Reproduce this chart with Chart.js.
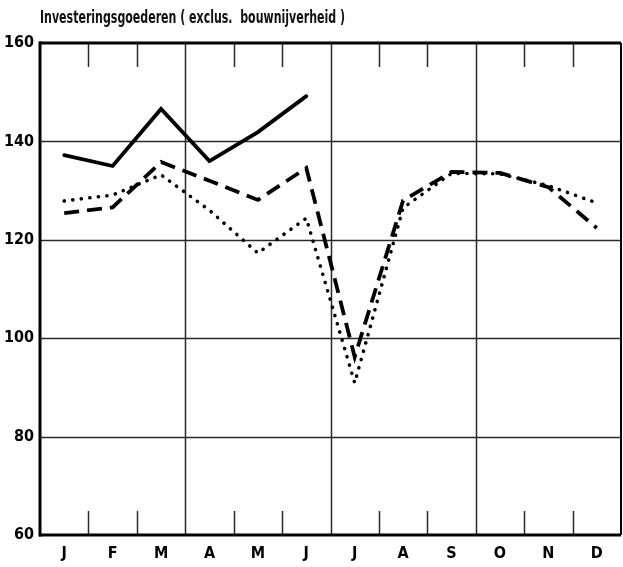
<!DOCTYPE html>
<html><head><meta charset="utf-8">
<script src="https://cdn.jsdelivr.net/npm/chart.js@4"></script>
<style>
body{margin:0;background:#fff}
#wrap{position:relative;width:623px;height:567px}
#title{position:absolute;left:40px;top:7px;font:bold 17px "Liberation Sans Narrow","DejaVu Sans Condensed",sans-serif;color:#111;white-space:pre;transform-origin:0 0}
canvas{position:absolute;left:0;top:0}
</style>
</head><body>
<div id="wrap"><canvas id="c" width="623" height="567"></canvas><div id="title">Investeringsgoederen ( exclus.  bouwnijverheid )</div></div>
<script>
const months = ["J","F","M","A","M","J","J","A","S","O","N","D"];
const yTicks = [60,80,100,120,140,160];
const seriesSolid  = [137.2,135.0,146.6,136.0,141.9,149.2,null,null,null,null,null,null];
const seriesDashed = [125.4,126.6,135.8,132.0,128.1,134.6,96.2,128.0,133.8,133.6,130.7,122.4];
const seriesDotted = [127.9,129.1,133.2,126.0,117.3,124.4,90.9,126.5,133.5,133.4,131.0,127.5];

const FONT = '"Liberation Sans Narrow","DejaVu Sans Condensed",sans-serif';

(function fitTitle(){
  const t = document.getElementById('title');
  const w = t.getBoundingClientRect().width;
  t.style.transform = 'scaleX(' + (305 / w) + ')';
})();

function seg(ctx,x1,y1,x2,y2){ctx.beginPath();ctx.moveTo(x1,y1);ctx.lineTo(x2,y2);ctx.stroke();}

const framePlugin = {
  id:'frame',
  beforeDatasetsDraw(chart){
    const {ctx, chartArea:a, scales:{x,y}} = chart;
    const n = months.length;
    ctx.save();
    ctx.strokeStyle = '#2a2a2a';
    ctx.lineWidth = 1.4;
    yTicks.forEach(v=>{
      if (v>y.min && v<y.max){ const py = Math.round(y.getPixelForValue(v))+0.5; seg(ctx,a.left,py,a.right,py); }
    });
    for (let i=1;i<n;i++){
      const px = Math.round((x.getPixelForValue(i-1)+x.getPixelForValue(i))/2)+0.5;
      ctx.lineWidth = 1.5;
      if (i%3===0){
        seg(ctx,px,a.top,px,a.bottom);
      } else {
        seg(ctx,px,a.top,px,a.top+24);
        seg(ctx,px,a.bottom-24,px,a.bottom);
      }
    }
    ctx.restore();
  },
  afterDatasetsDraw(chart){
    const {ctx, chartArea:a} = chart;
    ctx.save();
    ctx.strokeStyle = '#000';
    ctx.lineWidth = 3;
    seg(ctx,a.left-1,a.top,a.right,a.top);
    seg(ctx,a.left,a.top-1.5,a.left,a.bottom+1.5);
    seg(ctx,a.left-1,a.bottom,a.right,a.bottom);
    ctx.lineWidth = 2;
    seg(ctx,a.right,a.top,a.right,a.bottom);
    ctx.restore();
  }
};

new Chart(document.getElementById('c'), {
  type:'line',
  data:{
    labels: months,
    datasets:[
      {label:'solid', data:seriesSolid, borderColor:'#000', borderWidth:3.8, pointRadius:0, tension:0, spanGaps:false, borderCapStyle:'round', borderJoinStyle:'miter'},
      {label:'dashed', data:seriesDashed, borderColor:'#000', borderWidth:3.8, borderDash:[15,8], pointRadius:0, tension:0, borderJoinStyle:'miter'},
      {label:'dotted', data:seriesDotted, borderColor:'#000', borderWidth:3.6, borderDash:[0.1,8.5], borderCapStyle:'round', pointRadius:0, tension:0}
    ]
  },
  options:{
    responsive:false,
    animation:false,
    layout:{padding:{top:43,right:2,left:0,bottom:0}},
    plugins:{legend:{display:false},tooltip:{enabled:false}},
    scales:{
      x:{
        offset:true,
        grid:{display:false,drawTicks:false},
        border:{display:false},
        ticks:{color:'#000',padding:9,font:{family:FONT,size:16,weight:'bold'},autoSkip:false,maxRotation:0},
        afterFit(s){ s.height = 32; }
      },
      y:{
        min:60,max:160,
        grid:{display:false,drawTicks:false},
        border:{display:false},
        ticks:{stepSize:20,color:'#000',padding:6,font:{family:FONT,size:16,weight:'bold'}},
        afterFit(s){ s.width = 40; }
      }
    }
  },
  plugins:[framePlugin]
});
</script>
</body></html>
